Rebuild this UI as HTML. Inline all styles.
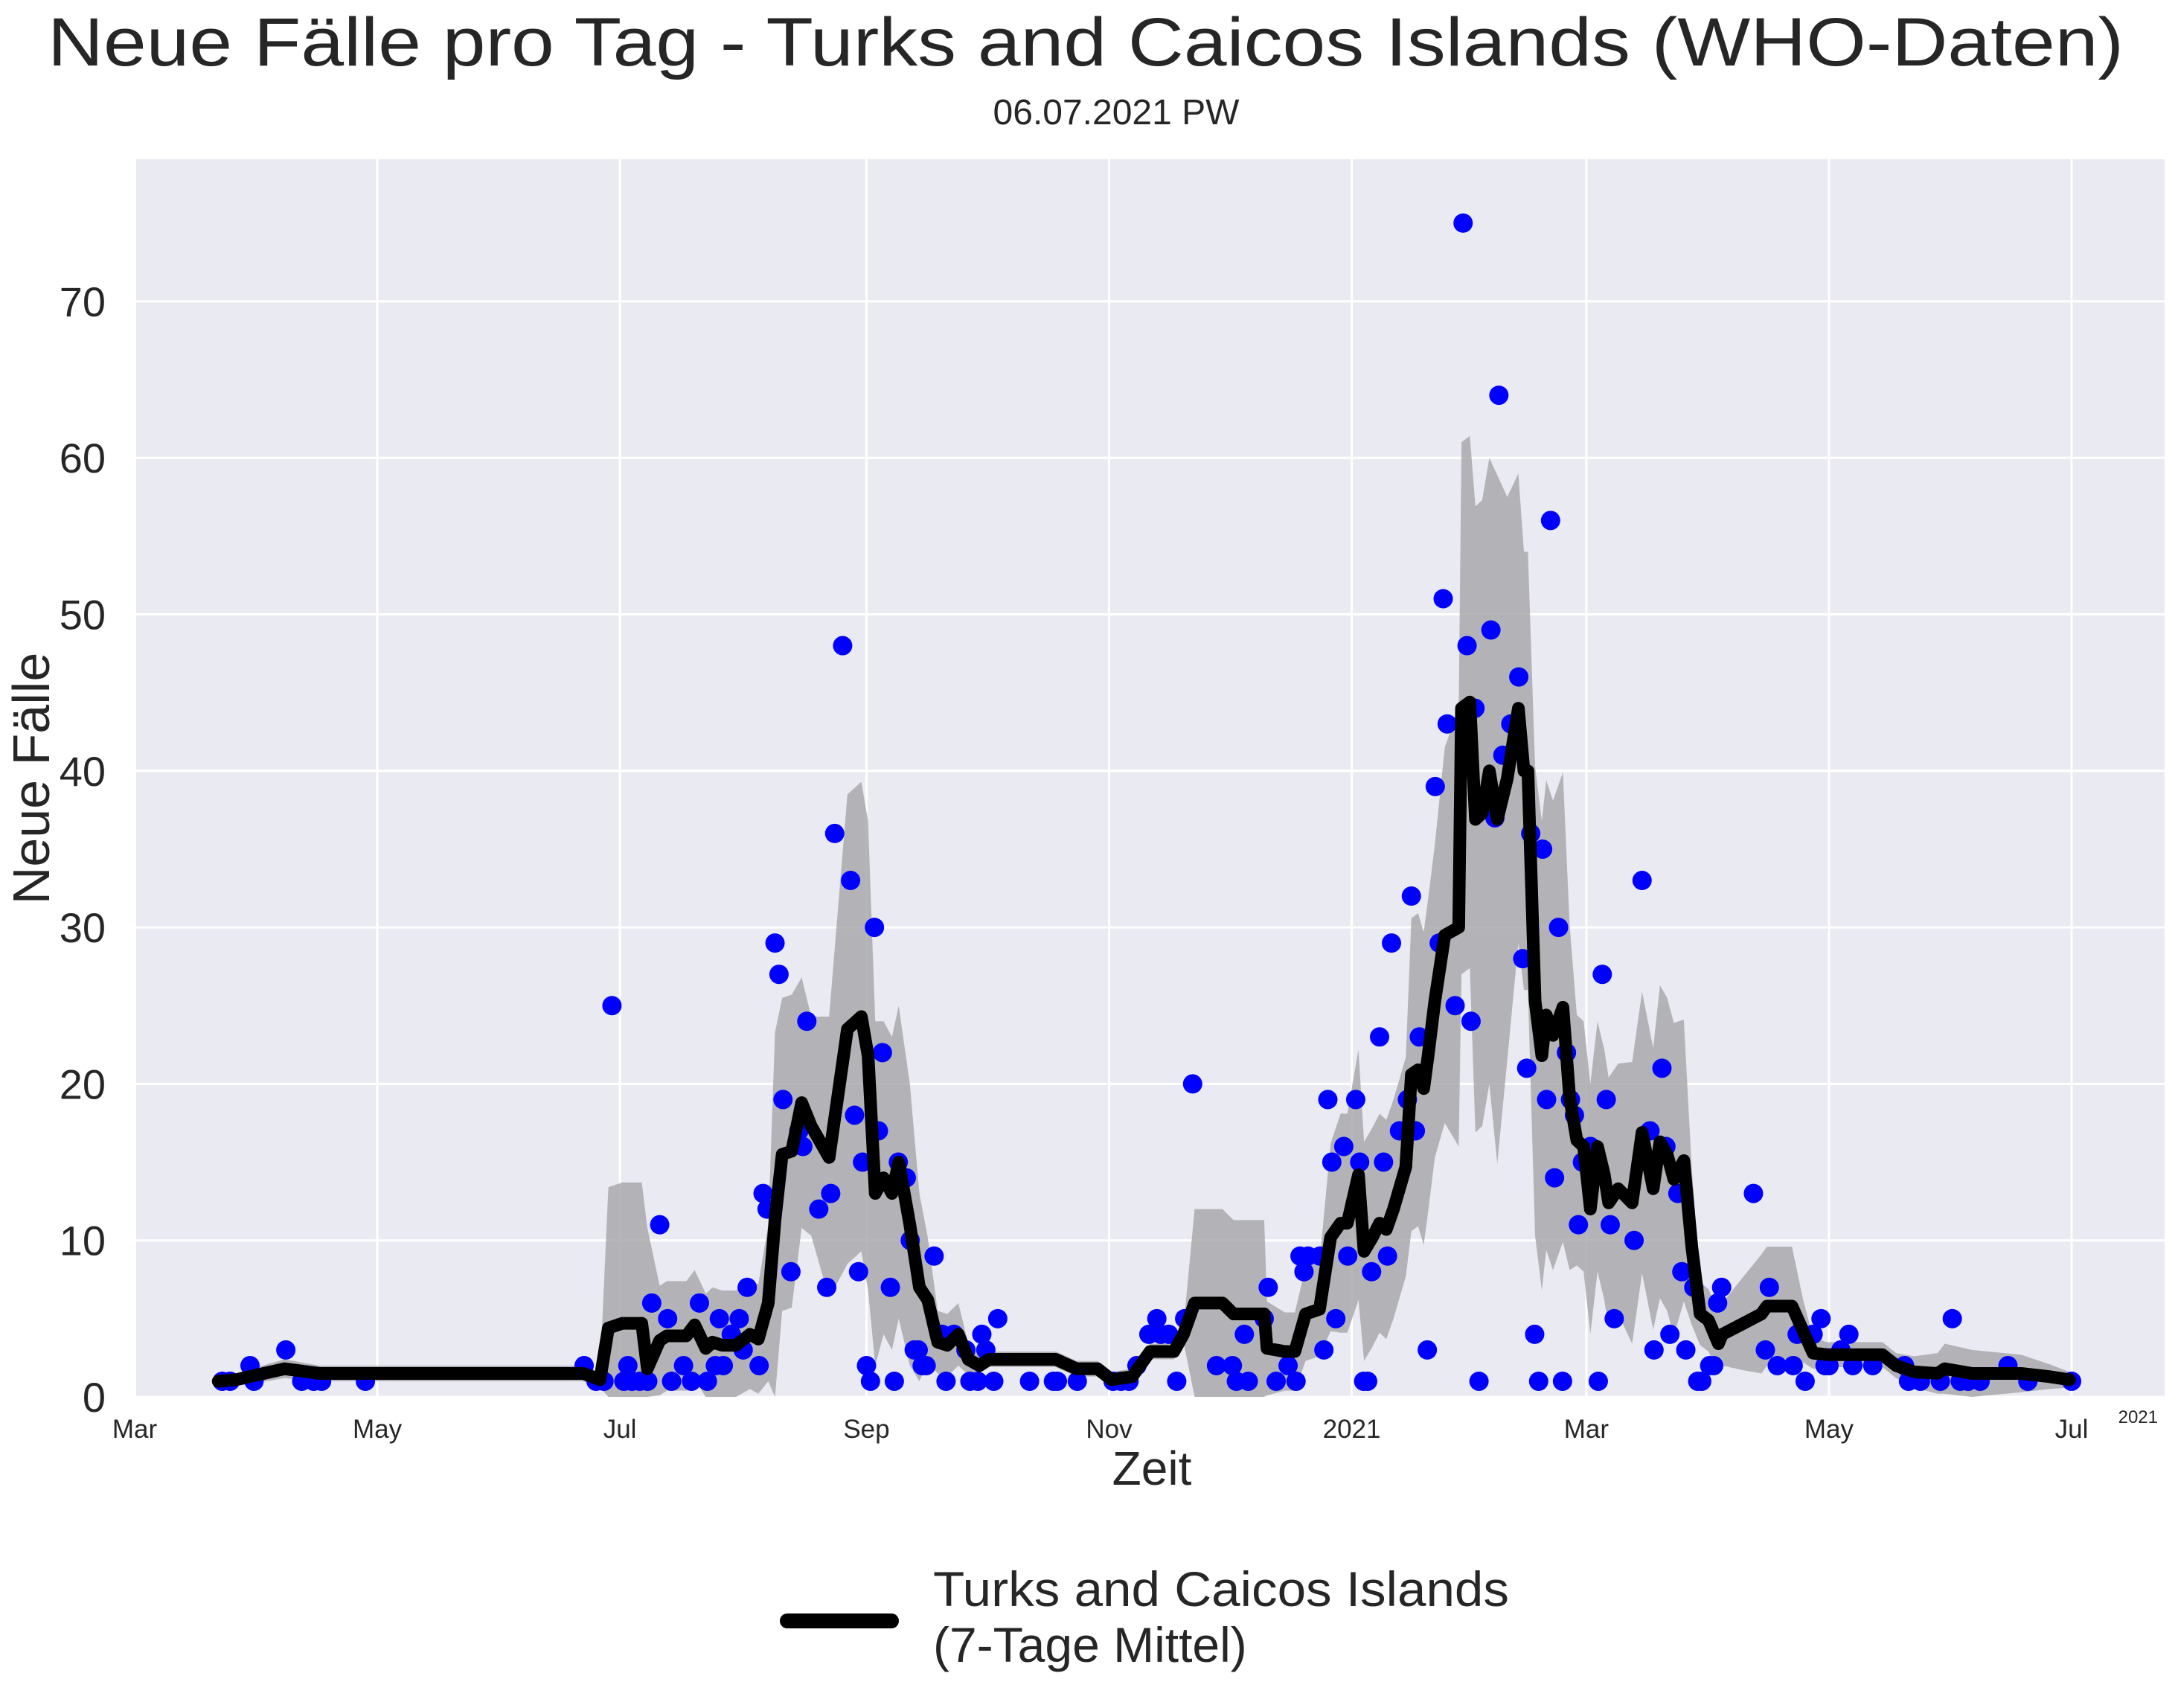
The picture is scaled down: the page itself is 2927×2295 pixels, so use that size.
<!DOCTYPE html>
<html><head><meta charset="utf-8"><style>
html,body{margin:0;padding:0;background:#fff;}
svg{display:block;font-family:"Liberation Sans",sans-serif;}
</style></head><body>
<svg id="chart" width="2927" height="2295" viewBox="0 0 2927 2295">
<text x="1459" y="88" font-size="92" text-anchor="middle" fill="#262626" textLength="2790" lengthAdjust="spacingAndGlyphs">Neue Fälle pro Tag - Turks and Caicos Islands (WHO-Daten)</text>
<text x="1500" y="167" font-size="48" text-anchor="middle" fill="#262626">06.07.2021 PW</text>
<rect x="183" y="214" width="2726" height="1664" fill="#eaeaf2"/>
<g id="grid"></g>
<g id="band"></g>
<g id="dots"></g>
<g id="line"></g>
<g id="yticks"></g>
<g id="xticks"></g>
<text x="2900" y="1912" font-size="24" text-anchor="end" fill="#262626">2021</text>
<text x="1548" y="1995" font-size="64" text-anchor="middle" fill="#262626">Zeit</text>
<text transform="translate(66,1046) rotate(-90)" font-size="70" text-anchor="middle" fill="#262626">Neue Fälle</text>
<g>
<line x1="1058" y1="2178" x2="1198" y2="2178" stroke="#000" stroke-width="20" stroke-linecap="round"/>
<text x="1254" y="2158" font-size="66" fill="#262626" textLength="774" lengthAdjust="spacingAndGlyphs">Turks and Caicos Islands</text>
<text x="1254" y="2233" font-size="66" fill="#262626">(7-Tage Mittel)</text>
</g>
</svg>
<script>
// days since 2020-03-01
const dotDays = [22,24,29,30,38,42,45,47,58,113,116,118,120,123,124,125,127,129,130,132,134,135,138,140,142,144,146,147,148,150,152,153,154,157,158,159,161,162,163,165,167,168,169,172,174,175,176,178,180,181,182,183,184,185,186,187,188,190,191,192,194,195,196,197,198,199,201,203,204,206,209,210,212,213,214,216,217,225,231,232,237,246,248,250,252,255,257,258,260,262,264,266,272,276,277,279,280,284,285,287,290,292,293,294,295,298,299,300,301,302,304,305,307,308,309,310,311,313,314,315,316,318,320,321,322,323,325,327,328,329,330,332,334,335,336,337,338,341,342,343,344,346,348,349,350,351,352,353,354,355,356,357,358,359,360,361,362,363,364,366,368,369,370,371,372,377,379,381,382,384,385,386,388,389,390,392,393,394,396,397,398,399,407,410,411,413,417,418,420,422,424,425,426,429,431,432,437,445,446,449,454,457,459,461,464,471,476,487];
const dotValues = [1,1,2,1,3,1,1,1,1,2,1,1,25,1,2,1,1,1,6,11,5,1,2,1,6,1,2,5,2,4,5,3,7,2,13,12,29,27,19,8,17,16,24,12,7,13,36,48,33,18,8,15,2,1,30,17,22,7,1,15,14,10,3,3,2,2,9,4,1,4,3,1,1,4,3,1,5,1,1,1,1,1,1,1,2,4,5,4,4,1,5,20,2,2,1,4,1,5,7,1,2,1,9,8,9,9,3,19,15,5,16,9,19,15,1,1,8,23,15,9,29,17,19,32,17,23,3,39,29,51,43,25,75,48,24,44,1,49,37,64,41,43,46,28,21,36,4,1,35,19,56,14,30,1,22,19,18,11,15,16,1,27,19,11,5,10,33,17,3,21,16,4,13,8,3,7,1,1,2,2,6,7,13,3,7,2,2,4,1,4,5,2,2,3,4,2,2,2,1,1,1,5,1,1,1,2,1,1];
const lineDays = [21,25.5,30.7,37.7,46.5,112.8,117,119.1,122.6,127.5,128.9,132,133.8,138.7,140.8,143.6,145.3,147.7,151.2,154.7,156.8,159.3,161,162.8,165.2,167.7,170.1,174.6,179.2,182.7,184.4,186.2,188.3,190.4,192.1,194.9,197.3,199.4,201.9,204.3,207.1,209.6,212.4,214.8,231.6,236.8,242.1,245.6,250.8,255.3,261.3,263.7,266.5,273.5,276.3,278.7,284,284.7,289.2,291.7,294.4,297.9,300.7,303.2,304.9,307.7,309.1,311.2,313,314.7,316.5,319.6,321,322.7,324.1,325.2,326.9,329.4,332.9,333.6,335.7,337.1,338.8,340.6,342.6,345.1,347.9,349.3,350.3,352.1,353.8,354.9,356.6,359.1,360.8,362.6,364.3,366,367.8,369.5,370.6,373,376.5,379,381.8,383.5,385.3,387,389.5,391.5,393.6,395.7,398.2,399.2,404.5,409,410.4,416.7,419.5,422,425.5,430.7,439.4,442.9,447.4,453.3,455.1,462,474.3,481.3,486.5];
const lineValues = [1,1.1,1.4,1.8,1.5,1.5,1.1,4.4,4.7,4.7,1.8,3.6,3.9,3.9,4.6,3.1,3.5,3.3,3.3,4,3.7,6,11.3,15.5,15.7,18.8,17.3,15.3,23.5,24.3,21.8,13,14,13,15,11,7,6.2,3.5,3.3,4,2.4,2,2.4,2.4,1.8,1.8,1.1,1.3,2.9,2.9,4,6,6,5.3,5.3,5.3,3.1,2.9,2.9,5.3,5.6,10.2,11.1,11.1,14.2,9.3,10.2,11.1,10.7,12,14.7,20.6,20.9,19.7,21.8,25.3,29.5,30,44,44.4,36.9,37.3,40,36.9,39.5,44,40,40,25.3,21.8,24.4,23.1,24.9,19.1,16.4,16,12,16,14.2,12.4,13.3,12.4,16.9,13.3,16.3,15.5,13.9,15.1,9.6,5.3,4.9,3.4,4,4.7,5.3,5.8,5.8,4.2,2.8,2.7,2.7,2.7,2,1.6,1.5,1.8,1.5,1.5,1.3,1.1];
const bandSpread = [0.3,0.4,0.5,0.6,0.5,0.5,0.5,9,9,9,
9,3.5,3.5,3.5,3.5,3.5,3.5,3.5,3.5,3.5,
3.5,5,12,10,10,8,7,9,15,15,
15,11,10,10,10,9,6,4,2,2,
2,1,0.5,0.5,0.5,0.5,0.5,0.5,0.5,0.5,
0.5,0.5,6,6,6,6,6,3,2.5,2.5,
3,3,6,7,7,8,7,7,7,7,
7,7,10,10,10,10,10,12,14,17,
17,20,20,20,22,18,15,14,14,15,
15,15,15,15,11,8,8,8,8,8,
8,8,9,9,9,10,10,10,9,5,
2,2,2,2,3,3.8,3.8,3.8,2,1,
0.8,0.8,0.8,0.8,1,1.3,1.6,1.5,1.2,0.8,0.5];
const yTicks = [0,10,20,30,40,50,60,70];
const xTickDays = [0,61,122,184,245,306,365,426,487];
const xTickLabels = ["Mar","May","Jul","Sep","Nov","2021","Mar","May","Jul"];

const NS = "http://www.w3.org/2000/svg";
const X0 = 181, PX_PER_DAY = 5.345, Y0 = 1877, PX_PER_UNIT = 21.03;
const L = 183, R = 2909, T = 214, B = 1878;
function xs(d){ return X0 + d * PX_PER_DAY; }
function ys(v){ return Y0 - v * PX_PER_UNIT; }
function mk(tag, attrs, parent){ const e = document.createElementNS(NS, tag); for (const k in attrs) e.setAttribute(k, attrs[k]); parent.appendChild(e); return e; }

const grid = document.getElementById('grid');
yTicks.forEach(v => {
  const g = mk('line', {x1:L, x2:R, y1:ys(v), y2:ys(v), stroke:'#fff', 'stroke-width':3}, grid);
  
  
});
xTickDays.forEach(d => {
  const g = mk('line', {x1:xs(d), x2:xs(d), y1:T, y2:B, stroke:'#fff', 'stroke-width':3}, grid);
  
  
});

const yt = document.getElementById('yticks');
yTicks.forEach(v => {
  const t = mk('text', {x:142, y:ys(v)+20, 'font-size':56, 'text-anchor':'end', fill:'#262626'}, yt);
  t.textContent = v;
  
  
});
const xt = document.getElementById('xticks');
xTickDays.forEach((d, i) => {
  const t = mk('text', {x:xs(d), y:1932, 'font-size':35, 'text-anchor':'middle', fill:'#262626'}, xt);
  t.textContent = xTickLabels[i];
  
  
});

// band
let up = [], lo = [];
lineDays.forEach((d, i) => {
  const s = (bandSpread[i] === undefined) ? 1 : bandSpread[i];
  up.push(xs(d) + ',' + ys(lineValues[i] + s));
  lo.push(xs(d) + ',' + ys(Math.max(0, lineValues[i] - s)));
});
lo.reverse();
const band = mk('polygon', {points: up.concat(lo).join(' '), fill:'#a9a9ad', opacity:0.85}, document.getElementById('band'));



const dg = document.getElementById('dots');
dotDays.forEach((d, i) => {
  const c = mk('circle', {cx:xs(d), cy:ys(dotValues[i]), r:13, fill:'#0000ff'}, dg);
  
  
});

const pts = lineDays.map((d, i) => xs(d) + ',' + ys(lineValues[i])).join(' ');
const pl = mk('polyline', {points:pts, fill:'none', stroke:'#000', 'stroke-width':17, 'stroke-linejoin':'round', 'stroke-linecap':'round'}, document.getElementById('line'));


</script>
</body></html>
